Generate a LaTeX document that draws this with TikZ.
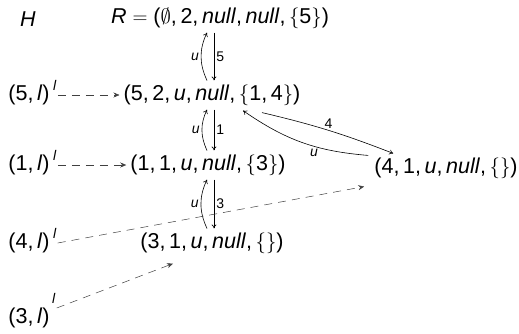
\documentclass[tikz,border=0pt]{standalone}
\usepackage{fontspec}
\setmainfont{Liberation Sans}
\usetikzlibrary{arrows.meta,calc}
\newcommand{\cm}{,\hspace{0.167em}}
\newcommand{\vr}[1]{\textit{#1}}
\newcommand{\lb}{$\{$}
\newcommand{\rb}{$\}$}
\begin{document}
\begin{tikzpicture}[x=1pt,y=-1pt,
  font=\fontsize{21.5}{25}\selectfont,
  every node/.style={inner sep=4pt},
  sm/.style={font=\fontsize{14}{16}\selectfont, inner sep=2pt},
  solidarr/.style={-{To[length=4pt,width=5pt]}, line width=0.6pt},
  dasharr/.style={-{Stealth[length=6pt,width=5pt]}, dash pattern=on 8pt off 6pt, line width=0.5pt, draw=black!75}]
\useasboundingbox (0,0) rectangle (519,333);
\coordinate (vx) at (214,0);
\coordinate (vu) at (207,0);

\node (H) at (28,19) {\vr{H}};
\node (R) at (220,18) {\vr{R}\hspace{0.278em}$=$\hspace{0.278em}($\emptyset$\cm 2\cm \vr{null}\cm \vr{null}\cm \lb 5\rb)};
\node (n52) at (212,95) {(5\cm 2\cm \vr{u}\cm \vr{null}\cm \lb 1\cm 4\rb)};
\node (n11) at (208,165) {(1\cm 1\cm \vr{u}\cm \vr{null}\cm \lb 3\rb)};
\node (n41) at (446,168) {(4\cm 1\cm \vr{u}\cm \vr{null}\cm \lb\rb)};
\node (n31) at (212,243) {(3\cm 1\cm \vr{u}\cm \vr{null}\cm \lb\rb)};
\node (l5) at (29,95) {(5\cm \vr{l})};
\node (l1) at (29,165) {(1\cm \vr{l})};
\node (l4) at (29,243) {(4\cm \vr{l})};
\node (l3) at (29,318) {(3\cm \vr{l})};

% vertical arrows
\draw[solidarr] (R.south -| vx) -- node[right, sm]{5} (n52.north -| vx);
\draw[solidarr] (n52.north -| vu) to[bend left=25] node[left, sm]{\vr{u}} (R.south -| vu);
\draw[solidarr] (n52.south -| vx) -- node[right, sm]{1} (n11.north -| vx);
\draw[solidarr] (n11.north -| vu) to[bend left=25] node[left, sm]{\vr{u}} (n52.south -| vu);
\draw[solidarr] (n11.south -| vx) -- node[right, sm]{3} (n31.north -| vx);
\draw[solidarr] (n31.north -| vu) to[bend left=25] node[left, sm]{\vr{u}} (n11.south -| vu);

% diagonal arrows
\draw[solidarr] ([shift={(50,3)}]n52.south) to[bend left=4] node[above, sm]{4} ([shift={(23,0)}]n41.north west);
\draw[solidarr] ([shift={(-2,2)}]n41.north west) to[bend left=15] node[pos=0.4, below, sm]{\vr{u}} ([shift={(31,1)}]n52.south);

% dashed arrows
\draw[dasharr] ([xshift=4pt]l5.east) -- node[at start, sm, anchor=south east, yshift=2pt, xshift=1pt]{\vr{l}} (n52.west);
\draw[dasharr] ([xshift=4pt]l1.east) -- node[at start, sm, anchor=south east, yshift=2pt, xshift=1pt]{\vr{l}} (n11.west);
\draw[dasharr] ([xshift=4pt]l4.east) -- node[at start, sm, anchor=south east, yshift=2pt, xshift=1pt]{\vr{l}} ([shift={(-6,4)}]n41.south west);
\draw[dasharr] ([shift={(3,-10)}]l3.east) -- node[at start, sm, anchor=south east, yshift=2pt, xshift=1pt]{\vr{l}} ([shift={(-39,6)}]n31.south);
\end{tikzpicture}
\end{document}
